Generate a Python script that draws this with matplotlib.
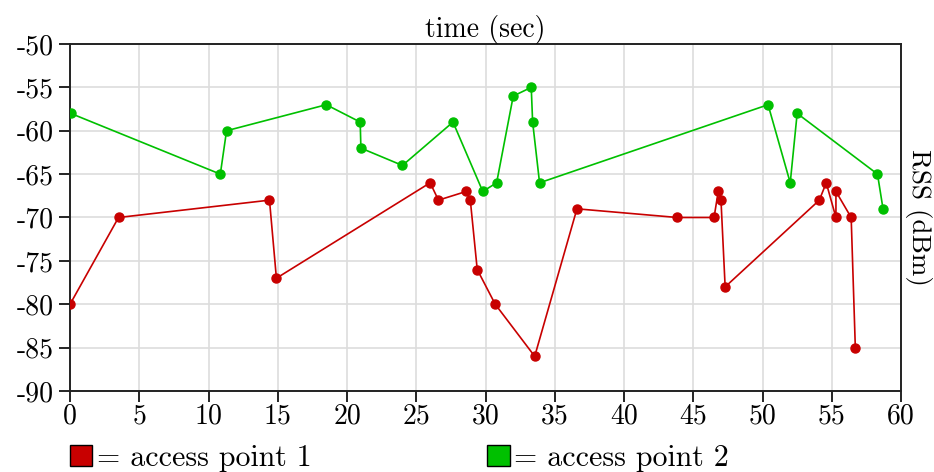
import matplotlib
matplotlib.use('Agg')
from matplotlib import pyplot as plt
from matplotlib.patches import Patch

plt.rcParams['font.family'] = ['cmr10', 'DejaVu Serif']
plt.rcParams['mathtext.fontset'] = 'cm'
plt.rcParams['axes.unicode_minus'] = False

ap1_time = [0, 3.5, 14.4, 14.9, 26.0, 26.6, 28.6, 28.9, 29.4, 30.7, 33.55, 36.6,
            43.85, 46.5, 46.8, 47.0, 47.3, 54.1, 54.6, 55.3, 55.3, 56.4, 56.7]
ap1_rss = [-80, -70, -68, -77, -66, -68, -67, -68, -76, -80, -86, -69,
           -70, -70, -67, -68, -78, -68, -66, -70, -67, -70, -85]

ap2_time = [0.05, 10.85, 11.3, 18.5, 20.95, 21.0, 24.0, 27.65, 29.8, 30.8, 32.0,
            33.3, 33.4, 33.9, 50.4, 52.0, 52.5, 58.3, 58.7]
ap2_rss = [-58, -65, -60, -57, -59, -62, -64, -59, -67, -66, -56,
           -55, -59, -66, -57, -66, -58, -65, -69]

x_ticks = list(range(0, 61, 5))
y_ticks = list(range(-90, -49, 5))

red = '#c80000'
green = '#00c000'
fs = 20

fig = plt.figure(figsize=(9.34, 4.72), dpi=100)
ax = fig.add_axes([0.075, 0.1716, 0.8897, 0.7352])

ax.plot(ap1_time, ap1_rss, color=red, lw=1.2, marker='o', ms=6.5, zorder=3)
ax.plot(ap2_time, ap2_rss, color=green, lw=1.2, marker='o', ms=6.5, zorder=3)

ax.set_xlim(0, 60)
ax.set_ylim(-90, -50)
ax.set_xticks(x_ticks)
ax.set_xticklabels([str(t) for t in x_ticks])
ax.set_yticks(y_ticks)
ax.set_yticklabels([str(t) for t in y_ticks])
ax.tick_params(labelsize=fs, direction='out', length=8, width=1.2, pad=1)
ax.tick_params(axis='y', pad=4)
ax.grid(True, color='#dddddd', lw=1.2, zorder=0)
ax.set_axisbelow(True)
for s in ax.spines.values():
    s.set_linewidth(1.4)
    s.set_color('#222222')

ax.set_title('time (sec)', fontsize=fs, pad=3)
ax.yaxis.set_label_position('right')
ax.set_ylabel('RSS (dBm)', fontsize=19.5, rotation=-90, va='bottom', labelpad=3)

handles = [Patch(facecolor=red, edgecolor='black', lw=1),
           Patch(facecolor=green, edgecolor='black', lw=1)]
fig.legend(handles, ['= access point 1', '= access point 2'], ncol=2,
           loc='lower left', bbox_to_anchor=(0.075, 0.0), frameon=False,
           borderpad=0, borderaxespad=0,
           fontsize=21.5, handlelength=0.74, handleheight=0.74, handletextpad=0.15,
           columnspacing=5.9)

fig.savefig('out.png', dpi=100)
